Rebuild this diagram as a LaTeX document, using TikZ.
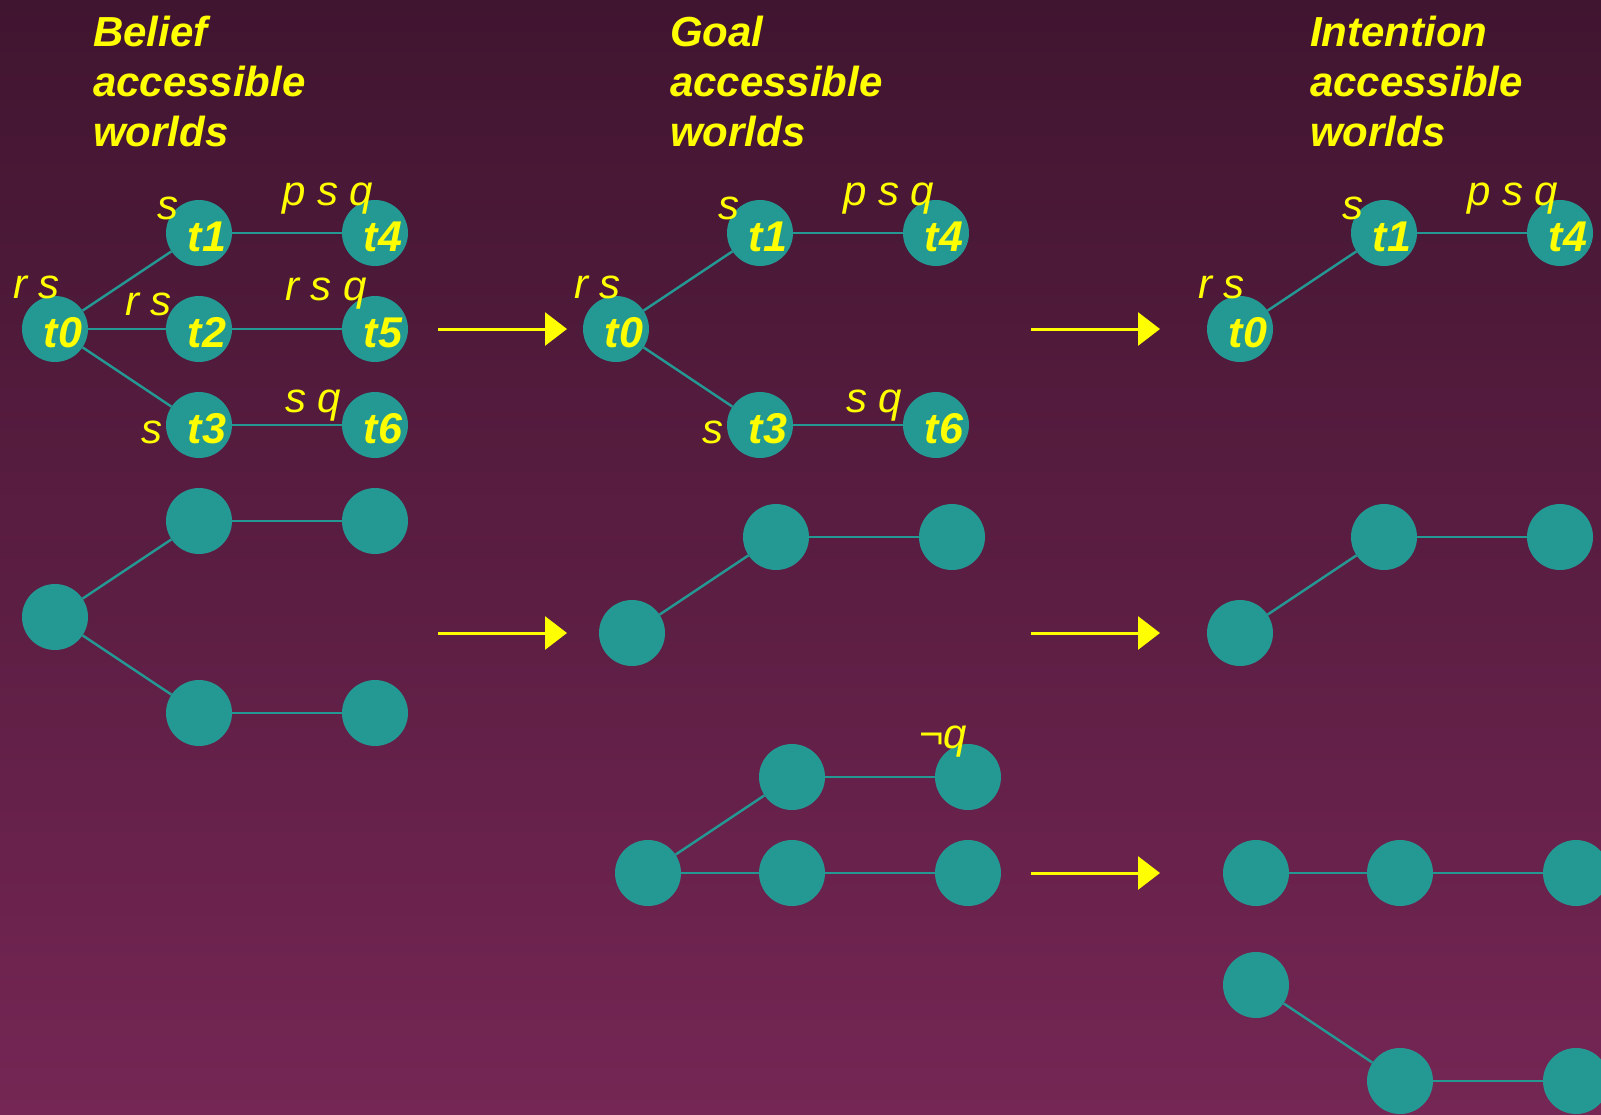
\documentclass[tikz,border=0pt]{standalone}
\usepackage{fontspec}
\setmainfont{Liberation Sans}
\usetikzlibrary{arrows.meta,positioning}

\definecolor{bgtop}{RGB}{64,21,48}
\definecolor{bgbot}{RGB}{117,38,84}
\definecolor{worldfill}{RGB}{36,153,148}
\definecolor{hilite}{RGB}{255,255,0}

\begin{document}
\begin{tikzpicture}[
  x=1pt, y=-1pt,
  node distance=96pt and 144pt, on grid,
  world/.style={circle, fill=worldfill, minimum size=66pt, inner sep=0pt},
  named/.style={world, label={[wname]center:#1}},
  wname/.style={text=hilite, inner sep=0pt, xshift=8pt, yshift=-4pt,
                font=\fontsize{43}{50}\selectfont\bfseries\itshape},
  prop/.style={anchor=base west, inner sep=0pt, text=hilite,
               font=\fontsize{42}{50}\selectfont\itshape},
  heading/.style={anchor=north west, inner sep=0pt, align=left, text=hilite,
                  font=\fontsize{42}{50}\selectfont\bfseries\itshape},
  link/.style={draw=worldfill, line width=2.4pt},
  arr/.style={-{Triangle[length=22pt, width=33pt]}, line width=3pt, hilite},
]
\useasboundingbox (0,0) rectangle (1601,1114);
\clip (0,0) rectangle (1601,1114);
\fill[top color=bgtop, bottom color=bgbot] (0,0) rectangle (1601,1114);

% Headings
\node[heading] (belief) at (93,16) {Belief\\accessible\\worlds};
\node[heading] (goal) at (670,16) {Goal\\accessible\\worlds};
\node[heading] (intention) at (1310,16) {Intention\\accessible\\worlds};

% Belief worlds
\node[named=t0] (b0) at (55,329) {};
\node[named=t1, above right=of b0] (b1) {};
\node[named=t2, right=of b0] (b2) {};
\node[named=t3, below right=of b0] (b3) {};
\node[named=t4, right=176pt of b1] (b4) {};
\node[named=t5, right=176pt of b2] (b5) {};
\node[named=t6, right=176pt of b3] (b6) {};
\draw[link] (b0) -- (b1);
\draw[link] (b0) -- (b2);
\draw[link] (b0) -- (b3);
\draw[link] (b1) -- (b4);
\draw[link] (b2) -- (b5);
\draw[link] (b3) -- (b6);
\node[prop] at ([shift={(-42,-31)}]b0) {r s};
\node[prop] at ([shift={(-42,-14)}]b1) {s};
\node[prop] at ([shift={(-74,-14)}]b2) {r s};
\node[prop] at ([shift={(-58,18)}]b3) {s};
\node[prop] at ([shift={(-93,-28)}]b4) {p s q};
\node[prop] at ([shift={(-90,-29)}]b5) {r s q};
\node[prop] at ([shift={(-90,-13)}]b6) {s q};

\node[world] (c0) at (55,617) {};
\node[world, above right=of c0] (c1) {};
\node[world, right=176pt of c1] (c2) {};
\node[world, below right=of c0] (c3) {};
\node[world, right=176pt of c3] (c4) {};
\draw[link] (c0) -- (c1);
\draw[link] (c1) -- (c2);
\draw[link] (c0) -- (c3);
\draw[link] (c3) -- (c4);

% Goal worlds
\node[named=t0] (g0) at (616,329) {};
\node[named=t1, above right=of g0] (g1) {};
\node[named=t3, below right=of g0] (g3) {};
\node[named=t4, right=176pt of g1] (g4) {};
\node[named=t6, right=176pt of g3] (g6) {};
\draw[link] (g0) -- (g1);
\draw[link] (g0) -- (g3);
\draw[link] (g1) -- (g4);
\draw[link] (g3) -- (g6);
\node[prop] at ([shift={(-42,-31)}]g0) {r s};
\node[prop] at ([shift={(-42,-14)}]g1) {s};
\node[prop] at ([shift={(-58,18)}]g3) {s};
\node[prop] at ([shift={(-93,-28)}]g4) {p s q};
\node[prop] at ([shift={(-90,-13)}]g6) {s q};

\node[world] (h0) at (632,633) {};
\node[world, above right=of h0] (h1) {};
\node[world, right=176pt of h1] (h2) {};
\draw[link] (h0) -- (h1);
\draw[link] (h1) -- (h2);

\node[world] (k0) at (648,873) {};
\node[world, above right=of k0] (k1) {};
\node[world, right=176pt of k1] (k2) {};
\node[world, right=of k0] (k3) {};
\node[world, right=176pt of k3] (k4) {};
\draw[link] (k0) -- (k1);
\draw[link] (k1) -- (k2);
\draw[link] (k0) -- (k3);
\draw[link] (k3) -- (k4);
\node[prop] at ([shift={(-49,-29)}]k2) {¬q};

% Intention worlds
\node[named=t0] (i0) at (1240,329) {};
\node[named=t1, above right=of i0] (i1) {};
\node[named=t4, right=176pt of i1] (i4) {};
\draw[link] (i0) -- (i1);
\draw[link] (i1) -- (i4);
\node[prop] at ([shift={(-42,-31)}]i0) {r s};
\node[prop] at ([shift={(-42,-14)}]i1) {s};
\node[prop] at ([shift={(-93,-28)}]i4) {p s q};

\node[world] (j0) at (1240,633) {};
\node[world, above right=of j0] (j1) {};
\node[world, right=176pt of j1] (j2) {};
\draw[link] (j0) -- (j1);
\draw[link] (j1) -- (j2);

\node[world] (m0) at (1256,873) {};
\node[world, right=of m0] (m1) {};
\node[world, right=176pt of m1] (m2) {};
\node[world] (m3) at (1256,985) {};
\node[world, below right=of m3] (m4) {};
\node[world, right=176pt of m4] (m5) {};
\draw[link] (m0) -- (m1);
\draw[link] (m1) -- (m2);
\draw[link] (m3) -- (m4);
\draw[link] (m4) -- (m5);

% Arrows between the columns
\foreach \y [count=\i] in {329,633} {
  \coordinate (from\i) at (438,\y);
  \coordinate (to\i) at (567,\y);
  \draw[arr] (from\i) -- (to\i);
}
\foreach \y [count=\i] in {329,633,873} {
  \coordinate (gfrom\i) at (1031,\y);
  \coordinate (gto\i) at (1160,\y);
  \draw[arr] (gfrom\i) -- (gto\i);
}
\end{tikzpicture}
\end{document}
